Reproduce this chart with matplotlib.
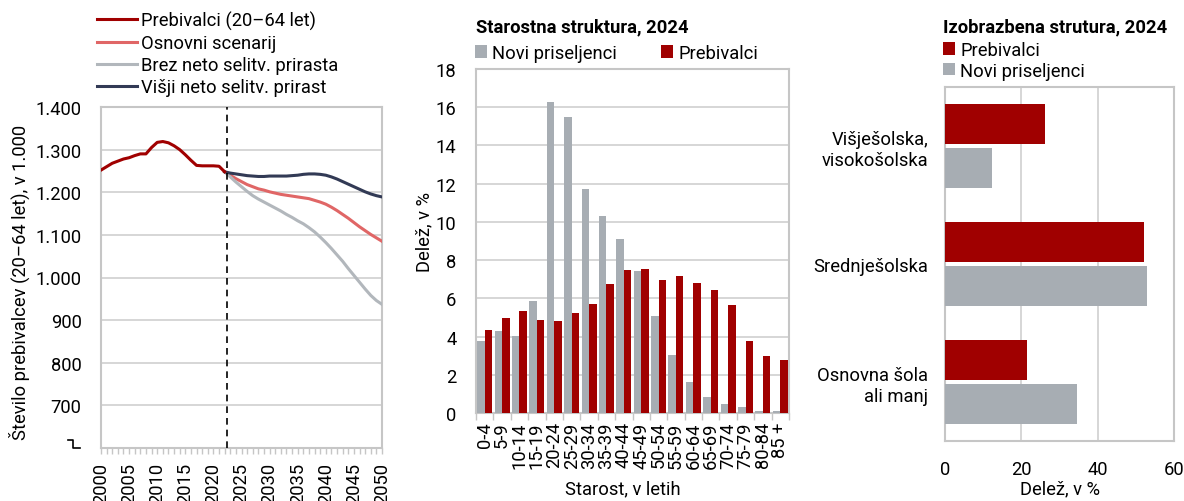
import matplotlib
matplotlib.use("Agg")
import matplotlib.pyplot as plt
import matplotlib.lines as mlines
from matplotlib.ticker import FuncFormatter, MultipleLocator
import numpy as np

plt.rcParams['font.family'] = ['Roboto', 'DejaVu Sans']

# ---------------- data ----------------
hist_years = list(range(2000, 2023))
hist_vals = [1252, 1260, 1268, 1273, 1278, 1281, 1286, 1290, 1290, 1305, 1317, 1319,
             1316, 1309, 1300, 1288, 1275, 1263, 1262, 1262, 1262, 1261, 1248]
proj_years = list(range(2022, 2051))
osnovni = [1248, 1240, 1232, 1225, 1218, 1213, 1208, 1205, 1201, 1198, 1195, 1193, 1191, 1189,
           1187, 1185, 1181, 1177, 1172, 1165, 1157, 1148, 1139, 1129, 1119, 1110, 1101, 1093, 1085]
brez = [1248, 1236, 1224, 1213, 1202, 1192, 1184, 1177, 1170, 1163, 1156, 1148, 1141, 1133,
        1126, 1117, 1107, 1095, 1082, 1068, 1053, 1038, 1021, 1005, 989, 973, 958, 946, 937]
visji = [1248, 1245, 1243, 1241, 1239, 1238, 1237, 1237, 1238, 1238, 1238, 1238, 1239, 1240,
         1242, 1243, 1243, 1242, 1240, 1236, 1231, 1225, 1219, 1213, 1207, 1201, 1196, 1192, 1189]
projection_start = 2022.45

age_groups = ['0-4', '5-9', '10-14', '15-19', '20-24', '25-29', '30-34', '35-39', '40-44',
              '45-49', '50-54', '55-59', '60-64', '65-69', '70-74', '75-79', '80-84', '85 +']
age_novi = [3.78, 4.31, 4.01, 5.88, 16.25, 15.47, 11.72, 10.29, 9.10, 7.45, 5.08, 3.05,
            1.60, 0.84, 0.45, 0.31, 0.09, 0.09]
age_preb = [4.36, 4.95, 5.35, 4.88, 4.83, 5.25, 5.72, 6.75, 7.46, 7.52, 6.94, 7.15,
            6.80, 6.45, 5.67, 3.78, 3.00, 2.76]

edu_cats = ['Višješolska,\nvisokošolska', 'Srednješolska', 'Osnovna šola\nali manj']
edu_preb = [26.2, 52.2, 21.5]
edu_novi = [12.2, 52.9, 34.5]

# ---------------- style ----------------
RED = '#A00000'
GRAYBAR = '#A7ADB3'
SALMON = '#E06666'
LGRAY = '#B2B7BC'
NAVY = '#323A55'
GRID = '#D0D0D0'
SPINE = '#C6C6C6'
FS = 13.2
TFS = 13.2

fig = plt.figure(figsize=(11.84, 5.02), dpi=100)
W, H = 1184, 502

def rect(x0, y0, x1, y1):
    return [x0 / W, 1 - y1 / H, (x1 - x0) / W, (y1 - y0) / H]

def style_spines(ax):
    for s in ax.spines.values():
        s.set_color(SPINE)
        s.set_linewidth(1.5)

# ---------------- left: line chart ----------------
ax1 = fig.add_axes(rect(101, 108, 382, 449))
ax1.plot(hist_years, hist_vals, color=RED, lw=2.2, label='Prebivalci (20–64 let)', zorder=4)
ax1.plot(proj_years, osnovni, color=SALMON, lw=2.2, label='Osnovni scenarij', zorder=3)
ax1.plot(proj_years, brez, color=LGRAY, lw=2.2, label='Brez neto selitv. prirasta', zorder=3)
ax1.plot(proj_years, visji, color=NAVY, lw=2.2, label='Višji neto selitv. prirast', zorder=3)
ax1.axvline(projection_start, color='black', lw=1.2, ls=(0, (4, 3)), zorder=5)
ax1.set_xlim(2000, 2050)
ax1.set_ylim(600, 1400)
ax1.set_yticks(range(700, 1401, 100))
ax1.yaxis.set_major_formatter(FuncFormatter(lambda v, p: f'{int(v):,}'.replace(',', '.')))
ax1.grid(axis='y', color=GRID, lw=1.2)
ax1.set_axisbelow(True)
ax1.xaxis.set_major_locator(MultipleLocator(5))
ax1.xaxis.set_minor_locator(MultipleLocator(1))
ax1.tick_params(axis='x', which='both', direction='out', length=4, color=SPINE, width=1,
                labelrotation=90, labelsize=FS, pad=6)
ax1.tick_params(axis='y', length=0, labelsize=FS, pad=14)
ax1.set_ylabel('Število prebivalcev (20–64 let), v 1.000', fontsize=FS)
ax1.yaxis.set_label_coords(-71 / 281, 0.487)
style_spines(ax1)
# axis break mark
fig.add_artist(mlines.Line2D([68 / W, 73 / W, 73 / W, 80 / W],
                             [1 - 440.5 / H, 1 - 440.5 / H, 1 - 449 / H, 1 - 449 / H],
                             color='black', lw=1.2))
ax1.legend(loc='upper left', bbox_to_anchor=(97 / W, 1 - 12 / H), bbox_transform=fig.transFigure,
           frameon=False, fontsize=FS, handlelength=2.2, handletextpad=0.2, labelspacing=0.22,
           borderaxespad=0, borderpad=0)

# ---------------- middle: age structure ----------------
ax2 = fig.add_axes(rect(476, 70, 789, 414))
x = np.arange(len(age_groups))
bw = 0.43
ax2.bar(x - bw / 2, age_novi, width=bw, color=GRAYBAR, label='Novi priseljenci', zorder=3)
ax2.bar(x + bw / 2, age_preb, width=bw, color=RED, label='Prebivalci', zorder=3)
ax2.set_xlim(-0.5, len(age_groups) - 0.5)
ax2.set_ylim(0, 18)
ax2.set_yticks(range(0, 19, 2))
ax2.set_xticks(x)
ax2.set_xticklabels(age_groups, rotation=90, fontsize=FS)
ax2.set_xticks(np.arange(-0.5, len(age_groups), 1), minor=True)
ax2.tick_params(axis='x', which='major', length=0, pad=6)
ax2.tick_params(axis='x', which='minor', length=5, color=SPINE, width=1)
ax2.tick_params(axis='y', length=0, labelsize=FS, pad=14)
ax2.grid(axis='y', color=GRID, lw=1.2)
ax2.set_axisbelow(True)
style_spines(ax2)
ax2.set_ylabel('Delež, v %', fontsize=FS)
ax2.yaxis.set_label_coords(-43 / 313, 0.53)
ax2.set_xlabel('Starost, v letih', fontsize=FS)
ax2.xaxis.set_label_coords(0.47, -66 / 344)
fig.text(476 / W, 1 - 27 / H, 'Starostna struktura, 2024', fontsize=TFS, fontweight='bold',
         ha='left', va='center')
ax2.legend(loc='upper left', bbox_to_anchor=(475 / W, 1 - 45 / H), bbox_transform=fig.transFigure,
           ncol=2, frameon=False, fontsize=FS, handlelength=0.65, handleheight=0.65,
           handletextpad=0.3, columnspacing=2.4, borderaxespad=0, borderpad=0)

# ---------------- right: education ----------------
ax3 = fig.add_axes(rect(945, 88, 1174, 442))
y = np.arange(len(edu_cats))
bh = 0.34
ax3.barh(y - 0.19, edu_preb, height=bh, color=RED, label='Prebivalci', zorder=3)
ax3.barh(y + 0.19, edu_novi, height=bh, color=GRAYBAR, label='Novi priseljenci', zorder=3)
ax3.set_ylim(len(edu_cats) - 0.5, -0.5)
ax3.set_xlim(0, 60)
ax3.set_xticks([0, 20, 40, 60])
ax3.set_yticks(y)
ax3.set_yticklabels(edu_cats, fontsize=FS, ha='right', multialignment='right')
ax3.tick_params(axis='y', length=0, pad=12)
ax3.tick_params(axis='x', length=0, labelsize=FS, pad=14)
ax3.grid(axis='x', color=GRID, lw=1.2)
ax3.set_axisbelow(True)
style_spines(ax3)
ax3.set_xlabel('Delež, v %', fontsize=FS)
ax3.xaxis.set_label_coords(0.5, -38 / 354)
fig.text(943 / W, 1 - 27 / H, 'Izobrazbena strutura, 2024', fontsize=TFS, fontweight='bold',
         ha='left', va='center')
ax3.legend(loc='upper left', bbox_to_anchor=(943 / W, 1 - 42 / H), bbox_transform=fig.transFigure,
           frameon=False, fontsize=FS, handlelength=0.65, handleheight=0.65,
           handletextpad=0.3, labelspacing=0.15, borderaxespad=0, borderpad=0)

fig.savefig('out.png', dpi=100)
